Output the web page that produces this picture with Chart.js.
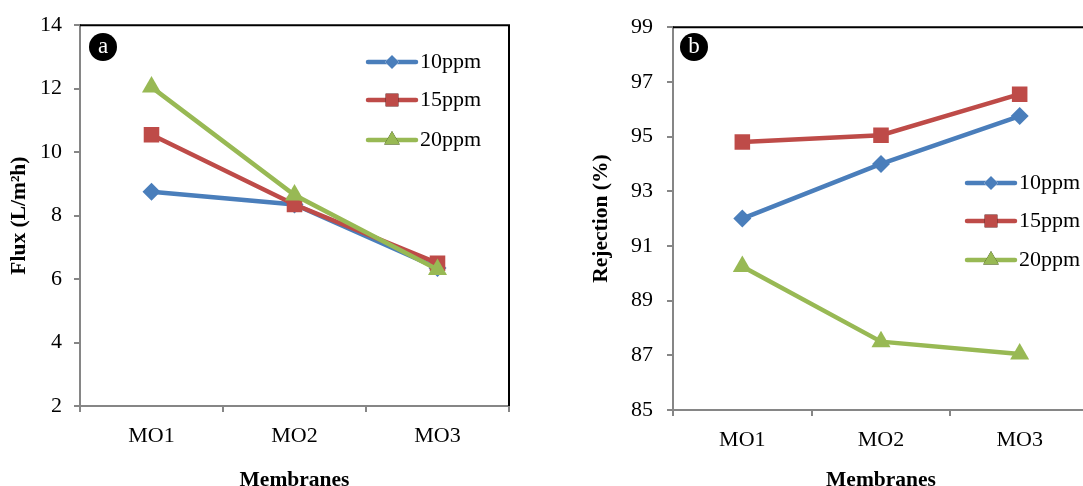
<!DOCTYPE html>
<html>
<head>
<meta charset="utf-8">
<script src="https://cdn.jsdelivr.net/npm/chart.js@4.4.1/dist/chart.umd.min.js"></script>
<style>
  html, body { margin: 0; padding: 0; background: #fff; overflow: hidden; }
  #wrap { position: relative; width: 1083px; height: 486px; overflow: hidden; }
  canvas { position: absolute; top: 0; }
</style>
</head>
<body>
<div id="wrap">
  <canvas id="flux-chart" width="540" height="486" style="left:0px"></canvas>
  <canvas id="rejection-chart" width="520" height="486" style="left:580px"></canvas>
</div>
<script>
var membranes = ['MO1', 'MO2', 'MO3'];
var seriesNames = ['10ppm', '15ppm', '20ppm'];

// panel a: flux (L/m2h)
var flux10 = [8.75, 8.35, 6.35];
var flux15 = [10.55, 8.35, 6.5];
var flux20 = [12.05, 8.65, 6.3];

// panel b: rejection (%)
var rejection10 = [92.0, 94.0, 95.75];
var rejection15 = [94.8, 95.05, 96.55];
var rejection20 = [90.25, 87.5, 87.05];

var colors = ['#4a7ebb', '#be4b48', '#98b954'];
var pointStyles = ['rectRot', 'rect', 'triangle'];
var pointSizes = [9, 11, 11];
var axisGray = '#868686';
var serif = "'Liberation Serif', 'Times New Roman', serif";

function makeDatasets(values) {
  var sets = [];
  for (var i = 0; i < values.length; i++) {
    sets.push({
      label: seriesNames[i],
      data: values[i],
      borderColor: colors[i],
      backgroundColor: colors[i],
      borderWidth: 4.5,
      pointStyle: pointStyles[i],
      pointRadius: pointSizes[i],
      pointBorderWidth: 0,
      pointBackgroundColor: colors[i],
      tension: 0,
      order: 3 - i
    });
  }
  return sets;
}

// frame on top/right, badge letter and the in-plot legend
var panelDecor = {
  id: 'panelDecor',
  afterDraw: function (chart, args, opts) {
    var ctx = chart.ctx;
    var area = chart.chartArea;
    ctx.save();
    ctx.strokeStyle = '#000';
    ctx.lineWidth = 2;
    ctx.beginPath();
    ctx.moveTo(area.left, area.top);
    ctx.lineTo(area.right, area.top);
    ctx.lineTo(area.right, area.bottom);
    ctx.stroke();

    ctx.fillStyle = '#000';
    ctx.beginPath();
    ctx.arc(opts.badgeX, opts.badgeY, 14, 0, Math.PI * 2);
    ctx.fill();
    ctx.fillStyle = '#fff';
    ctx.font = '23px ' + serif;
    ctx.textAlign = 'center';
    ctx.textBaseline = 'middle';
    ctx.fillText(opts.badge, opts.badgeX, opts.badgeY);

    for (var i = 0; i < seriesNames.length; i++) {
      var y = opts.legendY[i];
      ctx.strokeStyle = colors[i];
      ctx.lineWidth = 4.5;
      ctx.lineCap = 'round';
      ctx.beginPath();
      ctx.moveTo(opts.legendX, y);
      ctx.lineTo(opts.legendX + 48, y);
      ctx.stroke();
      Chart.helpers.drawPoint(ctx, {
        pointStyle: pointStyles[i],
        radius: pointSizes[i] - 2,
        borderWidth: 0
      }, opts.legendX + 24, y);
      ctx.fillStyle = colors[i];
      ctx.fill();
      ctx.fillStyle = '#000';
      ctx.font = '22px ' + serif;
      ctx.textAlign = 'left';
      ctx.fillText(seriesNames[i], opts.legendX + 52, y);
    }
    ctx.restore();
  }
};

function makeChart(canvasId, values, yMin, yMax, yTitle, layout, decor) {
  var ctx = document.getElementById(canvasId).getContext('2d');
  return new Chart(ctx, {
    type: 'line',
    data: { labels: membranes, datasets: makeDatasets(values) },
    plugins: [panelDecor],
    options: {
      responsive: false,
      animation: false,
      layout: { padding: layout.padding },
      plugins: {
        legend: { display: false },
        tooltip: { enabled: false },
        panelDecor: decor
      },
      scales: {
        x: {
          type: 'category',
          offset: true,
          afterFit: function (scale) { scale.height = layout.xHeight; },
          grid: {
            offset: true,
            drawOnChartArea: false,
            drawTicks: true,
            tickLength: 6,
            color: axisGray,
            lineWidth: 2
          },
          border: { color: axisGray, width: 2 },
          ticks: { color: '#000', font: { family: serif, size: 22 }, padding: 11 },
          title: {
            display: true,
            text: 'Membranes',
            color: '#000',
            font: { family: serif, size: 21.5, weight: 'bold', lineHeight: 1 },
            padding: { top: 0, bottom: 0 }
          }
        },
        y: {
          min: yMin,
          max: yMax,
          afterFit: function (scale) { scale.width = layout.yWidth; },
          grid: {
            drawOnChartArea: false,
            drawTicks: true,
            tickLength: 6,
            color: axisGray,
            lineWidth: 2
          },
          border: { color: axisGray, width: 2 },
          ticks: {
            stepSize: 2,
            color: '#000',
            font: { family: serif, size: 22 },
            padding: layout.yPad
          },
          title: {
            display: true,
            text: yTitle,
            color: '#000',
            font: { family: serif, size: 21.5, weight: 'bold', lineHeight: 1 },
            padding: { top: layout.yTitlePad, bottom: 0 }
          }
        }
      }
    }
  });
}

makeChart('flux-chart', [flux10, flux15, flux20], 2, 14, 'Flux (L/m\u00B2h)',
  { padding: { left: 0, right: 31, top: 22, bottom: -5 }, xHeight: 85, yWidth: 80, yPad: 12, yTitlePad: 9 },
  { badge: 'a', badgeX: 103, badgeY: 47, legendX: 368, legendY: [62, 100, 140] });

makeChart('rejection-chart', [rejection10, rejection15, rejection20], 85, 99, 'Rejection (%)',
  { padding: { left: 0, right: 11, top: 23, bottom: -5 }, xHeight: 81, yWidth: 93, yPad: 14, yTitlePad: 11 },
  { badge: 'b', badgeX: 114, badgeY: 47, legendX: 387, legendY: [183, 221, 260] });
</script>
</body>
</html>
